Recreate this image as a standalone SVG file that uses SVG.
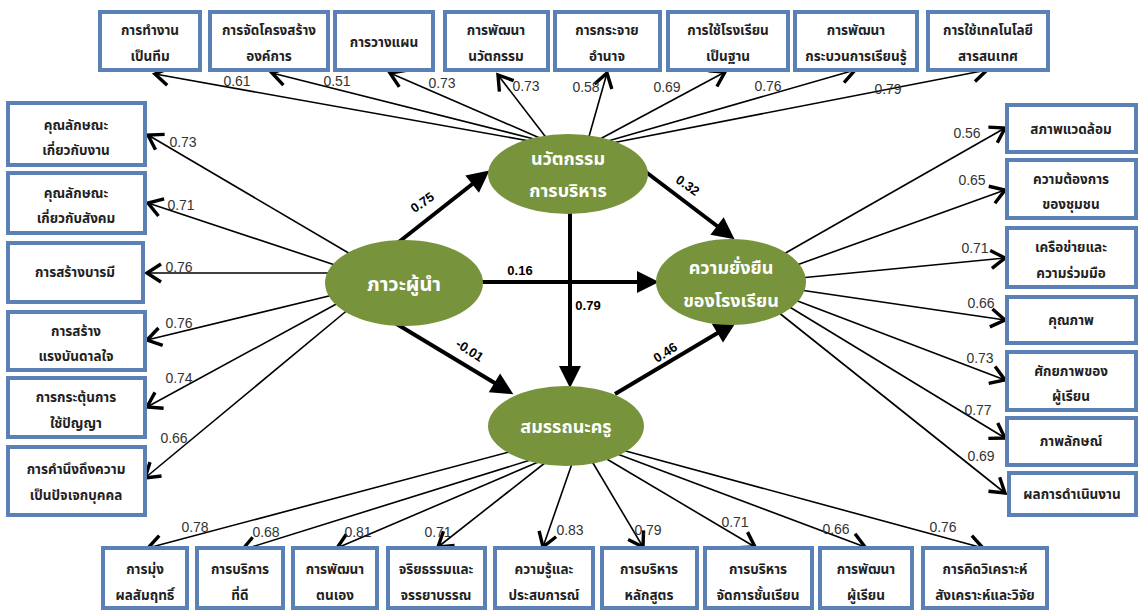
<svg xmlns="http://www.w3.org/2000/svg" width="1140" height="611" viewBox="0 0 1140 611">
<style>
.box{fill:#fff;stroke:#5a80b5;stroke-width:4}
.bt{font-family:"Noto Sans Thai","Noto Sans","DejaVu Sans",sans-serif;font-size:13.5px;font-weight:bold;fill:#222;text-anchor:middle}
.el{fill:#77933c}
.et{font-family:"Noto Sans Thai","Noto Sans","DejaVu Sans",sans-serif;font-size:18px;font-weight:bold;fill:#fff;text-anchor:middle}
.thin{stroke:#000;stroke-width:1.6;fill:none;marker-end:url(#chev)}
.thick{stroke:#000;stroke-width:4;fill:none;marker-end:url(#tri)}
.lb{font-family:"Liberation Sans",Arial,sans-serif;font-size:14px;fill:#333;text-anchor:middle}
.lbb{font-family:"Liberation Sans",Arial,sans-serif;font-size:13px;font-weight:bold;fill:#000;text-anchor:middle}
</style>
<defs>
<marker id="chev" markerUnits="userSpaceOnUse" viewBox="0 0 18 20" markerWidth="18" markerHeight="20" refX="16" refY="10" orient="auto" overflow="visible">
<path d="M2,1 L16,10 L2,19" fill="none" stroke="#000" stroke-width="3.4"/>
</marker>
<marker id="tri" markerUnits="userSpaceOnUse" viewBox="0 0 22 22" markerWidth="22" markerHeight="22" refX="10" refY="11" orient="auto" overflow="visible">
<path d="M0,0 L22,11 L0,22 z" fill="#000"/>
</marker>
</defs>
<rect width="1140" height="611" fill="#fff"/>

<g id="connectors">
<line class="thin" x1="535" y1="142" x2="155" y2="74"/>
<line class="thin" x1="538" y1="140" x2="272" y2="73"/>
<line class="thin" x1="542" y1="139" x2="390" y2="73"/>
<line class="thin" x1="548" y1="140" x2="498" y2="75"/>
<line class="thin" x1="588" y1="140" x2="607" y2="73"/>
<line class="thin" x1="600" y1="139" x2="725" y2="72"/>
<line class="thin" x1="608" y1="141" x2="855" y2="70"/>
<line class="thin" x1="612" y1="143" x2="987" y2="70"/>
<line class="thin" x1="352" y1="255" x2="148" y2="135"/>
<line class="thin" x1="338" y1="266" x2="148" y2="203"/>
<line class="thin" x1="332" y1="273" x2="147" y2="273"/>
<line class="thin" x1="333" y1="295" x2="147" y2="340"/>
<line class="thin" x1="340" y1="302" x2="147" y2="407"/>
<line class="thin" x1="350" y1="308" x2="145" y2="478"/>
<line class="thin" x1="782" y1="255" x2="1005" y2="128"/>
<line class="thin" x1="794" y1="266" x2="1005" y2="190"/>
<line class="thin" x1="800" y1="278" x2="1005" y2="258"/>
<line class="thin" x1="800" y1="290" x2="1005" y2="320"/>
<line class="thin" x1="795" y1="300" x2="1005" y2="380"/>
<line class="thin" x1="788" y1="306" x2="1005" y2="438"/>
<line class="thin" x1="778" y1="312" x2="1005" y2="493"/>
<line class="thin" x1="528" y1="447" x2="148" y2="548"/>
<line class="thin" x1="540" y1="457" x2="242" y2="550"/>
<line class="thin" x1="550" y1="457" x2="337" y2="548"/>
<line class="thin" x1="555" y1="455" x2="438" y2="547"/>
<line class="thin" x1="575" y1="455" x2="543" y2="547"/>
<line class="thin" x1="590" y1="458" x2="643" y2="547"/>
<line class="thin" x1="600" y1="455" x2="755" y2="547"/>
<line class="thin" x1="612" y1="452" x2="865" y2="547"/>
<line class="thin" x1="622" y1="450" x2="983" y2="548"/>
<line class="thick" x1="395" y1="245" x2="480" y2="178"/>
<line class="thick" x1="638" y1="166" x2="725" y2="232"/>
<line class="thick" x1="475" y1="282" x2="647" y2="282"/>
<line class="thick" x1="570" y1="205" x2="570" y2="376"/>
<line class="thick" x1="395" y1="323" x2="503" y2="388"/>
<line class="thick" x1="615" y1="394" x2="726" y2="328"/>
<g class="lb">
<text x="237" y="86">0.61</text>
<text x="337" y="86">0.51</text>
<text x="442" y="88">0.73</text>
<text x="526" y="91">0.73</text>
<text x="586" y="92">0.58</text>
<text x="667" y="92">0.69</text>
<text x="768" y="91">0.76</text>
<text x="888" y="94">0.79</text>
<text x="183" y="147">0.73</text>
<text x="181" y="210">0.71</text>
<text x="179" y="272">0.76</text>
<text x="179" y="328">0.76</text>
<text x="179" y="383">0.74</text>
<text x="174" y="443">0.66</text>
<text x="967" y="138">0.56</text>
<text x="972" y="185">0.65</text>
<text x="975" y="253">0.71</text>
<text x="981" y="308">0.66</text>
<text x="980" y="363">0.73</text>
<text x="978" y="415">0.77</text>
<text x="981" y="461">0.69</text>
<text x="195" y="532">0.78</text>
<text x="266" y="537">0.68</text>
<text x="358" y="537">0.81</text>
<text x="438" y="537">0.71</text>
<text x="570" y="535">0.83</text>
<text x="648" y="535">0.79</text>
<text x="735" y="527">0.71</text>
<text x="836" y="534">0.66</text>
<text x="943" y="532">0.76</text>
</g>
<g class="lbb">
<text x="422" y="207" transform="rotate(-35 422 202)">0.75</text>
<text x="688" y="190" transform="rotate(35 688 185)">0.32</text>
<text x="520" y="275">0.16</text>
<text x="588" y="310">0.79</text>
<text x="470" y="355" transform="rotate(33 470 350)">-0.01</text>
<text x="665" y="357" transform="rotate(-33 665 352)">0.46</text>
</g>
</g>

<g id="n-innovation"><ellipse class="el" cx="568" cy="174" rx="80" ry="40"/><text class="et" x="568" y="165">นวัตกรรม</text><text class="et" x="568" y="197">การบริหาร</text></g>
<g id="n-leadership"><ellipse class="el" cx="404" cy="283" rx="79" ry="43"/><text class="et" x="404" y="291" style="font-size:20px">ภาวะผู้นำ</text></g>
<g id="n-sustain"><ellipse class="el" cx="731" cy="282" rx="75" ry="43"/><text class="et" x="731" y="274">ความยั่งยืน</text><text class="et" x="731" y="307">ของโรงเรียน</text></g>
<g id="n-teacher"><ellipse class="el" cx="566" cy="426" rx="78" ry="40"/><text class="et" x="566" y="433">สมรรถนะครู</text></g>

<g id="t1"><rect class="box" x="100" y="12" width="100" height="58"/><text class="bt" x="150" y="35">การทำงาน</text><text class="bt" x="150" y="61">เป็นทีม</text></g>
<g id="t2"><rect class="box" x="210" y="12" width="118" height="58"/><text class="bt" x="269" y="35">การจัดโครงสร้าง</text><text class="bt" x="269" y="61">องค์การ</text></g>
<g id="t3"><rect class="box" x="335" y="12" width="98" height="58"/><text class="bt" x="384" y="47">การวางแผน</text></g>
<g id="t4"><rect class="box" x="445" y="12" width="103" height="58"/><text class="bt" x="496" y="35">การพัฒนา</text><text class="bt" x="496" y="61">นวัตกรรม</text></g>
<g id="t5"><rect class="box" x="555" y="12" width="105" height="58"/><text class="bt" x="607" y="35">การกระจาย</text><text class="bt" x="607" y="61">อำนาจ</text></g>
<g id="t6"><rect class="box" x="668" y="12" width="120" height="58"/><text class="bt" x="728" y="35">การใช้โรงเรียน</text><text class="bt" x="728" y="61">เป็นฐาน</text></g>
<g id="t7"><rect class="box" x="795" y="12" width="122" height="58"/><text class="bt" x="856" y="35">การพัฒนา</text><text class="bt" x="856" y="61">กระบวนการเรียนรู้</text></g>
<g id="t8"><rect class="box" x="928" y="12" width="120" height="58"/><text class="bt" x="988" y="35">การใช้เทคโนโลยี</text><text class="bt" x="988" y="61">สารสนเทศ</text></g>

<g id="l1"><rect class="box" x="8" y="103" width="137" height="62"/><text class="bt" x="76" y="130">คุณลักษณะ</text><text class="bt" x="76" y="155">เกี่ยวกับงาน</text></g>
<g id="l2"><rect class="box" x="8" y="173" width="137" height="60"/><text class="bt" x="76" y="198">คุณลักษณะ</text><text class="bt" x="76" y="223">เกี่ยวกับสังคม</text></g>
<g id="l3"><rect class="box" x="8" y="243" width="135" height="59"/><text class="bt" x="75" y="277">การสร้างบารมี</text></g>
<g id="l4"><rect class="box" x="8" y="312" width="137" height="58"/><text class="bt" x="76" y="336">การสร้าง</text><text class="bt" x="76" y="361">แรงบันดาลใจ</text></g>
<g id="l5"><rect class="box" x="8" y="378" width="137" height="59"/><text class="bt" x="76" y="402">การกระตุ้นการ</text><text class="bt" x="76" y="428">ใช้ปัญญา</text></g>
<g id="l6"><rect class="box" x="8" y="447" width="137" height="68"/><text class="bt" x="76" y="474">การคำนึงถึงความ</text><text class="bt" x="76" y="500">เป็นปัจเจกบุคคล</text></g>

<g id="r1"><rect class="box" x="1007" y="105" width="129" height="47"/><text class="bt" x="1071" y="134">สภาพแวดล้อม</text></g>
<g id="r2"><rect class="box" x="1007" y="160" width="129" height="58"/><text class="bt" x="1071" y="184">ความต้องการ</text><text class="bt" x="1071" y="209">ของชุมชน</text></g>
<g id="r3"><rect class="box" x="1007" y="228" width="129" height="59"/><text class="bt" x="1071" y="252">เครือข่ายและ</text><text class="bt" x="1071" y="278">ความร่วมมือ</text></g>
<g id="r4"><rect class="box" x="1007" y="297" width="129" height="46"/><text class="bt" x="1071" y="325">คุณภาพ</text></g>
<g id="r5"><rect class="box" x="1007" y="352" width="129" height="58"/><text class="bt" x="1071" y="376">ศักยภาพของ</text><text class="bt" x="1071" y="401">ผู้เรียน</text></g>
<g id="r6"><rect class="box" x="1007" y="418" width="129" height="47"/><text class="bt" x="1071" y="446">ภาพลักษณ์</text></g>
<g id="r7"><rect class="box" x="1009" y="473" width="127" height="42"/><text class="bt" x="1072" y="499">ผลการดำเนินงาน</text></g>

<g id="b1"><rect class="box" x="103" y="548" width="84" height="60"/><text class="bt" x="145" y="574">การมุ่ง</text><text class="bt" x="145" y="600">ผลสัมฤทธิ์</text></g>
<g id="b2"><rect class="box" x="197" y="548" width="86" height="60"/><text class="bt" x="240" y="574">การบริการ</text><text class="bt" x="240" y="600">ที่ดี</text></g>
<g id="b3"><rect class="box" x="293" y="548" width="84" height="60"/><text class="bt" x="335" y="574">การพัฒนา</text><text class="bt" x="335" y="600">ตนเอง</text></g>
<g id="b4"><rect class="box" x="388" y="548" width="97" height="60"/><text class="bt" x="436" y="574">จริยธรรมและ</text><text class="bt" x="436" y="600">จรรยาบรรณ</text></g>
<g id="b5"><rect class="box" x="495" y="548" width="98" height="60"/><text class="bt" x="544" y="574">ความรู้และ</text><text class="bt" x="544" y="600">ประสบการณ์</text></g>
<g id="b6"><rect class="box" x="602" y="548" width="95" height="60"/><text class="bt" x="649" y="574">การบริหาร</text><text class="bt" x="649" y="600">หลักสูตร</text></g>
<g id="b7"><rect class="box" x="705" y="548" width="107" height="60"/><text class="bt" x="758" y="574">การบริหาร</text><text class="bt" x="758" y="600">จัดการชั้นเรียน</text></g>
<g id="b8"><rect class="box" x="820" y="548" width="92" height="60"/><text class="bt" x="866" y="574">การพัฒนา</text><text class="bt" x="866" y="600">ผู้เรียน</text></g>
<g id="b9"><rect class="box" x="923" y="548" width="124" height="60"/><text class="bt" x="985" y="574">การคิดวิเคราะห์</text><text class="bt" x="985" y="600">สังเคราะห์และวิจัย</text></g>
</svg>
